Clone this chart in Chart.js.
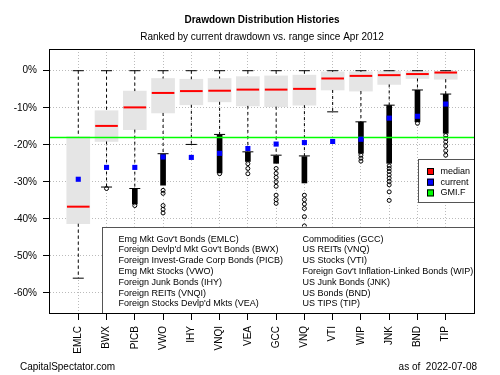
<!DOCTYPE html>
<html>
<head>
<meta charset="utf-8">
<script src="https://cdn.jsdelivr.net/npm/chart.js@4.4.0/dist/chart.umd.min.js"></script>
<style>
  html, body { margin: 0; padding: 0; background: #fff; }
</style>
</head>
<body>
<canvas id="drawdownChart" width="500" height="375"></canvas>
<script>
const tickers = ['EMLC', 'BWX', 'PICB', 'VWO', 'IHY', 'VNQI', 'VEA', 'GCC', 'VNQ', 'VTI', 'WIP', 'JNK', 'BND', 'TIP'];
const fundNames = [
    "Emg Mkt Gov't Bonds (EMLC)",
    "Foreign Devlp'd Mkt Gov't Bonds (BWX)",
    "Foreign Invest-Grade Corp Bonds (PICB)",
    "Emg Mkt Stocks (VWO)",
    "Foreign Junk Bonds (IHY)",
    "Foreign REITs (VNQI)",
    "Foreign Stocks Devlp'd Mkts (VEA)",
    "Commodities (GCC)",
    "US REITs (VNQ)",
    "US Stocks (VTI)",
    "Foreign Gov't Inflation-Linked Bonds (WIP)",
    "US Junk Bonds (JNK)",
    "US Bonds (BND)",
    "US TIPS (TIP)"
];
const yTicks = [-60, -50, -40, -30, -20, -10, 0];

// drawdown distribution, in %
const whiskerHigh = [0, 0, 0, 0, 0, 0, 0, 0, 0, 0, 0, 0, 0, 0];
const boxHigh = [-17.8, -10.8, -5.5, -2.1, -2.3, -2.1, -1.6, -1.4, -1.2, -0.3, -0.3, -0.1, -0.1, -0.1];
const medians = [-36.7, -14.9, -9.9, -6.0, -5.5, -5.4, -5.1, -5.1, -4.9, -2.1, -1.4, -1.2, -0.9, -0.5];
const boxLow = [-41.3, -19.1, -15.9, -11.4, -9.2, -8.4, -9.5, -9.7, -9.3, -5.2, -5.5, -3.7, -2.1, -2.3];
const whiskerLow = [-56.0, -31.4, -31.8, -22.4, -19.9, -17.2, -21.9, -22.8, -23.0, -11.1, -13.8, -9.3, -5.2, -6.3];
const current = [-29.3, -26.1, -26.1, -23.3, -23.4, -22.3, -21.0, -19.8, -19.4, -19.1, -18.5, -12.8, -12.3, -9.0];
const gmif = -18.0;

// dense runs of outliers [top, bottom], null where there are none
const outlierRuns = [
    null, null, [-32.0, -36.0], [-22.6, -30.9], null, [-17.4, -27.6], [-22.0, -24.5],
    [-23.0, -25.0], [-23.2, -30.3], null, [-13.9, -22.3], [-9.4, -25.0], [-5.3, -13.8], [-6.4, -16.9]
];
// single outliers
const outliers = [
    [],
    [-31.8],
    [-36.4],
    [-32.3, -33.1, -36.4, -37.4, -38.4],
    [],
    [-27.8],
    [-25.1, -26.4, -27.8],
    [-26.4, -27.7, -28.8, -30.0, -31.2, -33.6, -34.8, -35.8],
    [-33.6, -34.8, -36.0, -37.2, -39.4, -41.9],
    [],
    [-22.8, -23.6, -24.4],
    [-25.7, -26.4, -27.2, -28.1, -29.0, -29.9, -30.8, -32.7, -35.0],
    [-14.2],
    [-17.5, -18.3, -19.2, -20.3, -21.6, -22.8]
];

const FONT = '"Liberation Sans", Arial, sans-serif';
Chart.defaults.font.family = FONT;
Chart.defaults.color = '#000';

const boxData = tickers.map((t, i) => ({ x: i + 1, y: [boxLow[i], boxHigh[i]] }));
const runData = [];
outlierRuns.forEach((r, i) => { if (r) runData.push({ x: i + 1, y: [r[1], r[0]] }); });
const whiskerData = [];
tickers.forEach((t, i) => {
    whiskerData.push({ x: i + 1, y: whiskerHigh[i] }, { x: i + 1, y: boxHigh[i] }, { x: i + 1, y: null });
    whiskerData.push({ x: i + 1, y: boxLow[i] }, { x: i + 1, y: whiskerLow[i] }, { x: i + 1, y: null });
});
const capData = [];
tickers.forEach((t, i) => {
    capData.push({ x: i + 1, y: whiskerHigh[i] }, { x: i + 1, y: whiskerLow[i] });
});
const outlierData = [];
outliers.forEach((list, i) => list.forEach(v => outlierData.push({ x: i + 1, y: v })));
const medianData = medians.map((v, i) => ({ x: i + 1, y: v }));
const currentData = current.map((v, i) => ({ x: i + 1, y: v }));
const gmifData = [{ x: 0, y: gmif }, { x: tickers.length + 1, y: gmif }];

const markerLegend = [
    { label: 'median', color: '#ff0000' },
    { label: 'current', color: '#0000ff' },
    { label: 'GMI.F', color: '#00ff00' }
];

const extras = {
    id: 'extras',
    afterDatasetsDraw(chart) {
        const ctx = chart.ctx;
        const a = chart.chartArea;
        ctx.save();

        // fund name legend
        const lx = a.left + 52, ly = a.top + 177.5;
        ctx.fillStyle = '#fff';
        ctx.fillRect(lx, ly, a.right - lx, a.bottom - ly);
        ctx.strokeStyle = '#555';
        ctx.lineWidth = 1;
        ctx.strokeRect(Math.round(lx) + 0.5, Math.round(ly) + 0.5, a.right - Math.round(lx), a.bottom - Math.round(ly));
        ctx.font = '9px ' + FONT;
        ctx.fillStyle = '#000';
        ctx.textAlign = 'left';
        ctx.textBaseline = 'middle';
        fundNames.forEach((name, i) => {
            const col = Math.floor(i / 7), row = i % 7;
            ctx.fillText(name, lx + 16.5 + col * 184, ly + 12.6 + row * 10.8);
        });

        // median / current / GMI.F legend
        const mx = a.right - 56, my = a.top + 110;
        ctx.fillStyle = '#fff';
        ctx.fillRect(mx, my, a.right - mx, 43);
        ctx.strokeStyle = '#555';
        ctx.strokeRect(Math.round(mx) + 0.5, Math.round(my) + 0.5, a.right - Math.round(mx), 43);
        markerLegend.forEach((item, i) => {
            const cy = my + 12.5 + i * 10.7;
            ctx.fillStyle = item.color;
            ctx.fillRect(mx + 9, cy - 3.5, 7, 7);
            ctx.strokeStyle = '#000';
            ctx.strokeRect(mx + 9.5, cy - 3, 6, 6);
            ctx.fillStyle = '#000';
            ctx.fillText(item.label, mx + 22.5, cy);
        });
        ctx.restore();
    },
    afterDraw(chart) {
        const ctx = chart.ctx;
        const a = chart.chartArea;
        ctx.save();
        ctx.strokeStyle = '#000';
        ctx.lineWidth = 1;
        ctx.strokeRect(Math.round(a.left) - 0.5, Math.round(a.top) + 0.5, Math.round(a.right - a.left) + 1, Math.round(a.bottom - a.top));
        ctx.font = '10px ' + FONT;
        ctx.fillStyle = '#000';
        ctx.textBaseline = 'middle';
        ctx.textAlign = 'left';
        ctx.fillText('CapitalSpectator.com', 20, 367);
        ctx.textAlign = 'right';
        ctx.fillText('as of  2022-07-08', 477, 367);
        ctx.restore();
    }
};

const ctx = document.getElementById('drawdownChart').getContext('2d');
new Chart(ctx, {
    type: 'bar',
    data: {
        datasets: [
            {
                type: 'scatter',
                label: 'current',
                data: currentData,
                pointStyle: 'rect',
                pointRadius: 3.6,
                pointBackgroundColor: '#0000ff',
                pointBorderColor: '#0000ff',
                pointBorderWidth: 0
            },
            {
                type: 'line',
                label: 'GMI.F',
                data: gmifData,
                borderColor: '#00ff00',
                borderWidth: 1.5,
                pointRadius: 0,
                fill: false
            },
            {
                type: 'scatter',
                label: 'median',
                data: medianData,
                pointStyle: 'line',
                pointRadius: 11.3,
                pointBorderColor: '#ff0000',
                pointBorderWidth: 2
            },
            {
                type: 'scatter',
                label: 'caps',
                data: capData,
                pointStyle: 'line',
                pointRadius: 5.5,
                pointBorderColor: '#000',
                pointBorderWidth: 1
            },
            {
                type: 'scatter',
                label: 'outliers',
                data: outlierData,
                pointStyle: 'circle',
                pointRadius: 2,
                pointBackgroundColor: 'rgba(255,255,255,0)',
                pointBorderColor: '#000',
                pointBorderWidth: 1
            },
            {
                type: 'bar',
                label: 'outlier runs',
                data: runData,
                backgroundColor: '#000',
                barThickness: 5,
                grouped: false
            },
            {
                type: 'line',
                label: 'whiskers',
                data: whiskerData,
                borderColor: '#000',
                borderWidth: 1,
                borderDash: [3, 3],
                pointRadius: 0,
                spanGaps: false,
                fill: false
            },
            {
                type: 'bar',
                label: 'box',
                data: boxData,
                backgroundColor: '#e5e5e5',
                barThickness: 23,
                grouped: false
            }
        ]
    },
    options: {
        responsive: false,
        devicePixelRatio: 1,
        animation: false,
        events: [],
        layout: { padding: { left: 0, right: 26, top: 0, bottom: 0 } },
        scales: {
            x: {
                type: 'linear',
                min: 0,
                max: tickers.length + 1,
                offset: false,
                afterBuildTicks: axis => { axis.ticks = tickers.map((t, i) => ({ value: i + 1 })); },
                afterFit: axis => { axis.height = 62; },
                ticks: {
                    autoSkip: false,
                    minRotation: 90,
                    maxRotation: 90,
                    padding: 6,
                    font: { size: 10 },
                    callback: (v, i) => tickers[i]
                },
                grid: {
                    offset: false,
                    color: '#bbbbbb',
                    lineWidth: 1,
                    tickLength: 7,
                    tickColor: '#000',
                    tickBorderDash: []
                },
                border: { display: false, dash: [1, 2] }
            },
            y: {
                type: 'linear',
                min: -65.4,
                max: 5.86,
                afterBuildTicks: axis => { axis.ticks = yTicks.map(v => ({ value: v })); },
                afterFit: axis => { axis.width = 50; },
                ticks: {
                    padding: 6,
                    font: { size: 10 },
                    callback: v => v + '%'
                },
                grid: {
                    color: '#bbbbbb',
                    lineWidth: 1,
                    tickLength: 7,
                    tickColor: '#000',
                    tickBorderDash: []
                },
                border: { display: false, dash: [1, 2] }
            }
        },
        plugins: {
            legend: { display: false },
            tooltip: { enabled: false },
            title: {
                display: true,
                fullSize: false,
                text: 'Drawdown Distribution Histories',
                font: { size: 10, weight: 'bold' },
                padding: { top: 14, bottom: 0 }
            },
            subtitle: {
                display: true,
                fullSize: false,
                text: 'Ranked by current drawdown vs. range since Apr 2012',
                font: { size: 10, weight: 'normal' },
                padding: { top: 5, bottom: 6 }
            }
        }
    },
    plugins: [extras]
});
</script>
</body>
</html>
